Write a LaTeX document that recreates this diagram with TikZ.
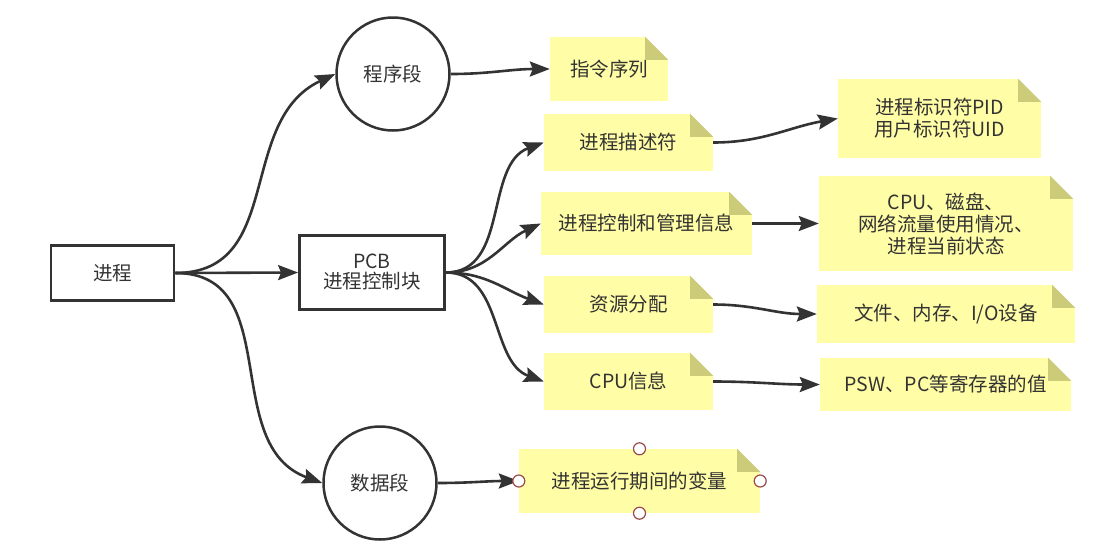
\documentclass[tikz,border=0pt]{standalone}
\usepackage{fontspec}
\setmainfont{Noto Sans CJK SC}
\usetikzlibrary{arrows.meta}
\definecolor{ink}{HTML}{333333}
\definecolor{notey}{HTML}{FFFDA6}
\definecolor{foldc}{HTML}{CCCB7A}
\definecolor{handlec}{HTML}{9A4C4C}
\newcommand\notefold[1]{%
  \fill[white] ([xshift=-23pt]#1.north east) -- (#1.north east) -- ([yshift=-23pt]#1.north east) -- cycle;
  \fill[foldc] ([xshift=-23pt]#1.north east) -- ([xshift=-23pt,yshift=-23pt]#1.north east) -- ([yshift=-23pt]#1.north east) -- cycle;}
\begin{document}
\begin{tikzpicture}[x=1pt,y=-1pt,
  every node/.style={text=ink,font=\fontsize{19.5}{25}\selectfont},
  boxn/.style={draw=ink,line width=2.8pt,fill=white,inner sep=0pt,align=center},
  circn/.style={draw=ink,line width=2.5pt,circle,fill=white,inner sep=0pt,minimum size=113pt},
  note/.style={fill=notey,inner sep=0pt,align=center},
  arr/.style={draw=ink,line width=2.6pt,-{Stealth[length=20pt,width=15pt,inset=3pt]}},
  handle/.style={circle,draw=handlec,line width=1.2pt,fill=white,inner sep=0pt,minimum size=12pt}]
\useasboundingbox (0,0) rectangle (1106,558);
% main nodes
\node[boxn,minimum width=123pt,minimum height=55pt] (jc) at (112.5,273) {进程};
\node[boxn,minimum width=145pt,minimum height=74pt] (pcb) at (372,272.5) {PCB\\[-5pt]进程控制块};
\node[circn] (cxd) at (393,74) {程序段};
\node[circn] (sjd) at (380,483) {数据段};
% notes
\node[note,minimum width=118pt,minimum height=64pt] (zl) at (609,69) {指令序列};
\node[note,minimum width=169pt,minimum height=57pt] (ms) at (628.5,142.5) {进程描述符};
\node[note,minimum width=211pt,minimum height=63pt] (kz) at (646.5,223.5) {进程控制和管理信息};
\node[note,minimum width=169pt,minimum height=57pt] (zy) at (628.5,304.5) {资源分配};
\node[note,minimum width=169pt,minimum height=57pt] (cpu) at (628.5,381.5) {CPU信息};
\node[note,minimum width=241pt,minimum height=64pt] (bl) at (639.5,481) {进程运行期间的变量};
\node[note,minimum width=203pt,minimum height=79pt] (pid) at (939.5,118.5) {进程标识符PID\\[-3pt]用户标识符UID};
\node[note,minimum width=254pt,minimum height=95pt] (cpud) at (946,223.5) {CPU、磁盘、\\[-3pt]网络流量使用情况、\\[-3pt]进程当前状态};
\node[note,minimum width=258pt,minimum height=58pt] (wj) at (946,314) {文件、内存、I/O设备};
\node[note,minimum width=251pt,minimum height=53pt] (psw) at (945.5,384.5) {PSW、PC等寄存器的值};
\notefold{zl}\notefold{ms}\notefold{kz}\notefold{zy}\notefold{cpu}
\notefold{bl}\notefold{pid}\notefold{cpud}\notefold{wj}\notefold{psw}
% connectors
\draw[arr] (jc.east) to[out=0,in=205,looseness=1.1] (cxd.west);
\draw[arr] (jc.east) -- (pcb.west);
\draw[arr] (jc.east) to[out=0,in=160,looseness=1.1] (sjd.west);
\draw[arr] (cxd.east) to[out=0,in=180] (zl.west);
\draw[arr] (pcb.east) to[out=0,in=200] (ms.west);
\draw[arr] (pcb.east) to[out=0,in=205] (kz.west);
\draw[arr] (pcb.east) to[out=0,in=160] (zy.west);
\draw[arr] (pcb.east) to[out=0,in=160] (cpu.west);
\draw[arr] (sjd.east) to[out=0,in=180] (bl.west);
\draw[arr] (ms.east) to[out=0,in=190] (pid.west);
\draw[arr] (kz.east) -- (cpud.west);
\draw[arr] (zy.east) to[out=0,in=180] (wj.west);
\draw[arr] (cpu.east) to[out=0,in=180] (psw.west);
% selection handles
\node[handle] (h1) at (bl.north) {};
\node[handle] (h2) at (bl.south) {};
\node[handle] (h3) at (bl.west) {};
\node[handle] (h4) at (bl.east) {};
\end{tikzpicture}
\end{document}
